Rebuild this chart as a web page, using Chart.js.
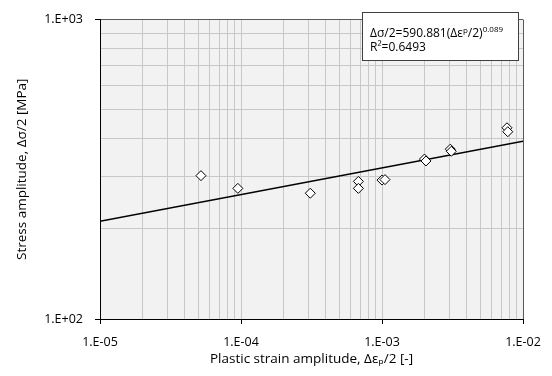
<!DOCTYPE html>
<html>
<head>
<meta charset="utf-8">
<script src="https://cdn.jsdelivr.net/npm/chart.js@4"></script>
<style>
  body { margin: 0; background: #fff; }
  #box { width: 552px; height: 376px; }
</style>
</head>
<body>
<div id="box"><canvas id="grafico"></canvas></div>
<script>
// pontos medidos (amplitude de deformação plástica, amplitude de tensão)
const strainAmp = [5.2e-5, 9.5e-5, 3.1e-4, 6.8e-4, 6.8e-4, 1.0e-3, 1.05e-3, 2.0e-3, 2.05e-3, 3.05e-3, 3.1e-3, 7.7e-3, 7.8e-3];
const stressAmp = [301, 273, 263, 288, 273, 291, 292, 342, 337, 369, 363, 435, 422];

// linha de tendência (potência)
const fitX = [1e-5, 1e-2];
const fitY = [212, 392];

// ticks dos eixos
const xMajor = [1e-5, 1e-4, 1e-3, 1e-2];
const xTickLabels = ["1.E-05", "1.E-04", "1.E-03", "1.E-02"];
const yMajor = [100, 1000];
const yTickLabels = ["1.E+02", "1.E+03"];
const minorSteps = [1, 2, 3, 4, 5, 6, 7, 8, 9];

const fonte = "'Open Sans', Lato, sans-serif";

function gridValues(majors) {
  let vals = [];
  for (let i = 0; i < majors.length - 1; i++) {
    minorSteps.forEach((s) => vals.push(majors[i] * s));
  }
  vals.push(majors[majors.length - 1]);
  return vals;
}

function isMajor(v, majors) {
  return majors.some((m) => Math.abs(v / m - 1) < 1e-6);
}

function labelFor(v, majors, labels) {
  for (let i = 0; i < majors.length; i++) {
    if (Math.abs(v / majors[i] - 1) < 1e-6) return labels[i];
  }
  return "";
}

// fundo cinza da área do gráfico
const fundoPlugin = {
  id: "fundo",
  beforeDraw(chart) {
    const a = chart.chartArea;
    const ctx = chart.ctx;
    ctx.save();
    ctx.fillStyle = "#f2f2f2";
    ctx.fillRect(a.left, a.top, a.right - a.left, a.bottom - a.top);
    ctx.restore();
  },
};

// caixa com a equação
const equacaoPlugin = {
  id: "equacao",
  afterDatasetsDraw(chart) {
    const ctx = chart.ctx;
    const x0 = 362, y0 = 12, w = 156, h = 48;
    ctx.save();
    ctx.fillStyle = "#fff";
    ctx.fillRect(x0, y0, w, h);
    ctx.strokeStyle = "#404040";
    ctx.lineWidth = 1;
    ctx.strokeRect(x0 + 0.5, y0 + 0.5, w, h);

    ctx.fillStyle = "#000";
    ctx.textBaseline = "alphabetic";
    const normal = "12px " + fonte;
    const small = "8px " + fonte;
    let x = 370;
    const base1 = 37;
    const partes = [
      ["Δσ/2=590.881(Δε", normal, 0],
      ["p", small, -4],
      ["/2)", normal, 0],
      ["0.089", small, -5],
    ];
    partes.forEach(([t, f, dy]) => {
      ctx.font = f;
      ctx.fillText(t, x, base1 + dy);
      x += ctx.measureText(t).width;
    });
    ctx.font = normal;
    ctx.fillText("R²=0.6493", 370, 51);
    ctx.restore();
  },
};

const grafico = new Chart(document.getElementById("grafico"), {
  type: "scatter",
  data: {
    datasets: [
      {
        label: "Pontos",
        data: strainAmp.map((x, i) => ({ x: x, y: stressAmp[i] })),
        pointStyle: "rectRot",
        pointRadius: 5,
        backgroundColor: "#fff",
        borderColor: "#000",
        borderWidth: 1,
        order: 1,
      },
      {
        label: "Tendência",
        type: "line",
        data: fitX.map((x, i) => ({ x: x, y: fitY[i] })),
        borderColor: "#000",
        borderWidth: 1.5,
        pointRadius: 0,
        order: 2,
      },
    ],
  },
  options: {
    responsive: true,
    maintainAspectRatio: false,
    animation: false,
    layout: { padding: { left: 0, right: 29, top: 12, bottom: 0 } },
    plugins: {
      legend: { display: false },
      tooltip: { enabled: false },
    },
    scales: {
      x: {
        type: "logarithmic",
        min: 1e-5,
        max: 1e-2,
        afterBuildTicks: (scale) => {
          scale.ticks = gridValues(xMajor).map((v) => ({ value: v }));
        },
        afterFit: (scale) => {
          scale.height = 57;
        },
        ticks: {
          autoSkip: false,
          maxRotation: 0,
          padding: 11,
          color: "#000",
          font: { family: fonte, size: 12.5 },
          callback: (v) => labelFor(v, xMajor, xTickLabels),
        },
        grid: {
          tickLength: 5,
          color: (c) => (c.tick && Math.abs(c.tick.value / 1e-2 - 1) < 1e-6 ? "#595959" : "#c8c8c8"),
          tickColor: (c) => (c.tick && isMajor(c.tick.value, xMajor) ? "#000" : "rgba(0,0,0,0)"),
        },
        border: { color: "#000", width: 1 },
        title: {
          display: true,
          text: "Plastic strain amplitude, Δεₚ/2 [-]",
          color: "#000",
          font: { family: fonte, size: 13.5 },
          padding: { top: 2, bottom: 9 },
        },
      },
      y: {
        type: "logarithmic",
        min: 100,
        max: 1000,
        afterBuildTicks: (scale) => {
          scale.ticks = gridValues(yMajor).map((v) => ({ value: v }));
        },
        afterFit: (scale) => {
          scale.width = 100;
        },
        ticks: {
          autoSkip: false,
          padding: 12,
          color: "#000",
          font: { family: fonte, size: 12.5 },
          callback: (v) => labelFor(v, yMajor, yTickLabels),
        },
        grid: {
          tickLength: 5,
          color: (c) => (c.tick && c.tick.value === 1000 ? "#595959" : "#c8c8c8"),
          tickColor: (c) => (c.tick && isMajor(c.tick.value, yMajor) ? "#000" : "rgba(0,0,0,0)"),
        },
        border: { color: "#000", width: 1 },
        title: {
          display: true,
          text: "Stress amplitude, Δσ/2 [MPa]",
          color: "#000",
          font: { family: fonte, size: 13.5 },
          padding: { top: 14, bottom: 4 },
        },
      },
    },
  },
  plugins: [fundoPlugin, equacaoPlugin],
});
</script>
</body>
</html>
